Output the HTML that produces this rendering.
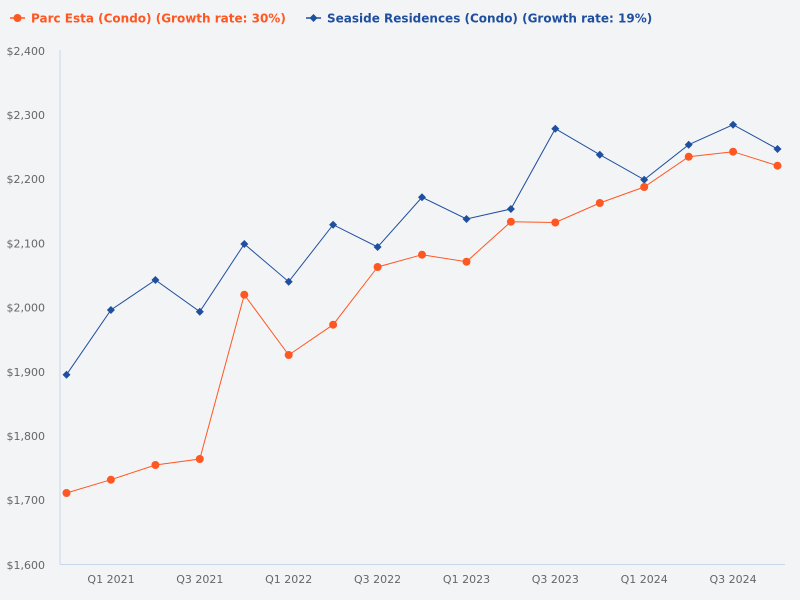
<!DOCTYPE html>
<html><head><meta charset="utf-8"><style>
html,body{margin:0;padding:0;background:#f3f4f6;}
svg{display:block;}
text{font-family:"DejaVu Sans","Liberation Sans",sans-serif;}
</style></head><body>
<svg width="800" height="600" viewBox="0 0 800 600" xmlns="http://www.w3.org/2000/svg">
<rect width="800" height="600" fill="#f3f4f6"/>
<!-- legend -->
<line x1="10" y1="18" x2="25" y2="18" stroke="#ff5722" stroke-width="1.5"/>
<circle cx="17.5" cy="18" r="4" fill="#ff5722"/>
<text x="31" y="22.5" font-size="12" font-weight="bold" fill="#ff5722">Parc Esta (Condo) (Growth rate: 30%)</text>
<line x1="306" y1="18" x2="321" y2="18" stroke="#1f4f9f" stroke-width="1.5"/>
<path d="M313.5 14 L317.5 18 L313.5 22 L309.5 18 Z" fill="#1f4f9f"/>
<text x="327" y="22.5" font-size="12" font-weight="bold" fill="#1f4f9f">Seaside Residences (Condo) (Growth rate: 19%)</text>
<!-- axes -->
<line x1="60" y1="50" x2="60" y2="564.5" stroke="#c9d5ea" stroke-width="1"/>
<line x1="60" y1="564.5" x2="785" y2="564.5" stroke="#c9d5ea" stroke-width="1"/>
<!-- y labels -->
<g font-size="11" fill="#666" text-anchor="end" dominant-baseline="middle">
<text x="45" y="52">$2,400</text>
<text x="45" y="116">$2,300</text>
<text x="45" y="180">$2,200</text>
<text x="45" y="244.5">$2,100</text>
<text x="45" y="308.5">$2,000</text>
<text x="45" y="373">$1,900</text>
<text x="45" y="437">$1,800</text>
<text x="45" y="501">$1,700</text>
<text x="45" y="566">$1,600</text>
</g>
<!-- x labels -->
<g font-size="11" fill="#666" text-anchor="middle" dominant-baseline="middle">
<text x="111" y="580">Q1 2021</text>
<text x="199.8" y="580">Q3 2021</text>
<text x="288.7" y="580">Q1 2022</text>
<text x="377.6" y="580">Q3 2022</text>
<text x="466.5" y="580">Q1 2023</text>
<text x="555.3" y="580">Q3 2023</text>
<text x="644.2" y="580">Q1 2024</text>
<text x="733.1" y="580">Q3 2024</text>
</g>
<!-- blue series -->
<polyline fill="none" stroke="#1f4f9f" stroke-width="1" points="66.5,374.7 110.9,310 155.4,280 199.8,311.7 244.3,244 288.7,281.7 333.1,224.7 377.6,247 422,197.3 466.5,219 510.9,209 555.3,128.7 599.8,154.7 644.2,179.7 688.7,144.7 733.1,124.7 777.5,149"/>
<g fill="#1f4f9f">
<path d="M66.5 370.7l4 4-4 4-4-4z"/>
<path d="M110.9 306l4 4-4 4-4-4z"/>
<path d="M155.4 276l4 4-4 4-4-4z"/>
<path d="M199.8 307.7l4 4-4 4-4-4z"/>
<path d="M244.3 240l4 4-4 4-4-4z"/>
<path d="M288.7 277.7l4 4-4 4-4-4z"/>
<path d="M333.1 220.7l4 4-4 4-4-4z"/>
<path d="M377.6 243l4 4-4 4-4-4z"/>
<path d="M422 193.3l4 4-4 4-4-4z"/>
<path d="M466.5 215l4 4-4 4-4-4z"/>
<path d="M510.9 205l4 4-4 4-4-4z"/>
<path d="M555.3 124.7l4 4-4 4-4-4z"/>
<path d="M599.8 150.7l4 4-4 4-4-4z"/>
<path d="M644.2 175.7l4 4-4 4-4-4z"/>
<path d="M688.7 140.7l4 4-4 4-4-4z"/>
<path d="M733.1 120.7l4 4-4 4-4-4z"/>
<path d="M777.5 145l4 4-4 4-4-4z"/>
</g>
<!-- orange series -->
<polyline fill="none" stroke="#ff5722" stroke-width="1" points="66.5,493 110.9,479.7 155.4,465 199.8,459 244.3,294.7 288.7,355 333.1,324.7 377.6,267 422,254.7 466.5,261.7 510.9,221.7 555.3,222.5 599.8,203 644.2,187 688.7,156.7 733.1,151.7 777.5,165.7"/>
<g fill="#ff5722">
<circle cx="66.5" cy="493" r="4"/>
<circle cx="110.9" cy="479.7" r="4"/>
<circle cx="155.4" cy="465" r="4"/>
<circle cx="199.8" cy="459" r="4"/>
<circle cx="244.3" cy="294.7" r="4"/>
<circle cx="288.7" cy="355" r="4"/>
<circle cx="333.1" cy="324.7" r="4"/>
<circle cx="377.6" cy="267" r="4"/>
<circle cx="422" cy="254.7" r="4"/>
<circle cx="466.5" cy="261.7" r="4"/>
<circle cx="510.9" cy="221.7" r="4"/>
<circle cx="555.3" cy="222.5" r="4"/>
<circle cx="599.8" cy="203" r="4"/>
<circle cx="644.2" cy="187" r="4"/>
<circle cx="688.7" cy="156.7" r="4"/>
<circle cx="733.1" cy="151.7" r="4"/>
<circle cx="777.5" cy="165.7" r="4"/>
</g>
</svg>
</body></html>
